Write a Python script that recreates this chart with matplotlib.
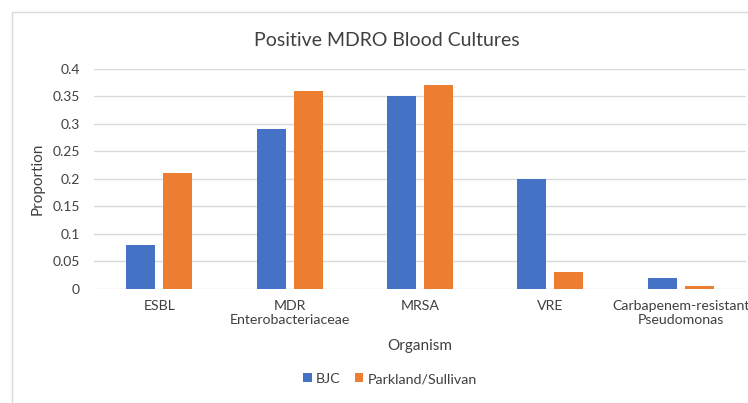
import numpy as np
import matplotlib.pyplot as plt
from matplotlib.patches import Rectangle

plt.rcParams['font.family'] = ['Lato', 'DejaVu Sans']

# data
organisms = ['ESBL', 'MDR\nEnterobacteriaceae', 'MRSA', 'VRE',
             'Carbapenem-resistant\nPseudomonas']
bjc = [0.08, 0.29, 0.35, 0.20, 0.02]
parkland = [0.21, 0.36, 0.37, 0.03, 0.005]
yticks = [0, 0.05, 0.1, 0.15, 0.2, 0.25, 0.3, 0.35, 0.4]
ytick_labels = ['0', '0.05', '0.1', '0.15', '0.2', '0.25', '0.3', '0.35', '0.4']

fig = plt.figure(figsize=(7.48, 4.03), dpi=100)
fig.patch.set_facecolor('white')

# light chart border like the spreadsheet chart area
fig.patches.append(Rectangle((12 / 748, -0.1), 1.1, 1 - 12 / 403 + 0.1,
                             transform=fig.transFigure, fill=False,
                             edgecolor='#D9D9D9', linewidth=1.0))

ax = fig.add_axes([94 / 748, 0.283, 652 / 748, 0.546])

x = np.arange(len(organisms))
w = 0.222
ax.bar(x - 0.142, bjc, w, color='#4472C4', label='BJC', zorder=3)
ax.bar(x + 0.142, parkland, w, color='#ED7D31', label='Parkland/Sullivan', zorder=3)

ax.set_xlim(-0.5, len(organisms) - 0.5)
ax.set_ylim(0, 0.4)
ax.set_yticks(yticks)
ax.set_yticklabels(ytick_labels, fontsize=10, color='#404040')
ax.set_xticks(x)
ax.set_xticklabels(organisms, fontsize=10.2, color='#404040', linespacing=1.2)
ax.tick_params(axis='y', length=0, pad=10)
ax.tick_params(axis='x', length=0, pad=8)

ax.grid(axis='y', color='#D9D9D9', linewidth=1.0, zorder=0)
for s in ax.spines.values():
    s.set_visible(False)

ax.set_ylabel('Proportion', fontsize=11, color='#404040', labelpad=6)
ax.set_xlabel('Organism', fontsize=11, color='#404040', labelpad=9)
fig.text(387 / 748, 1 - 40 / 403, 'Positive MDRO Blood Cultures', fontsize=14,
         color='#404040', ha='center', va='center')

ax.legend(loc='center', bbox_to_anchor=(390 / 748, 1 - 379 / 403), bbox_transform=fig.transFigure,
          ncol=2, frameon=False, fontsize=10.3, handlelength=0.6, handleheight=0.6,
          handletextpad=0.3, columnspacing=1.0, labelcolor='#404040')

fig.savefig('out.png', dpi=100)
